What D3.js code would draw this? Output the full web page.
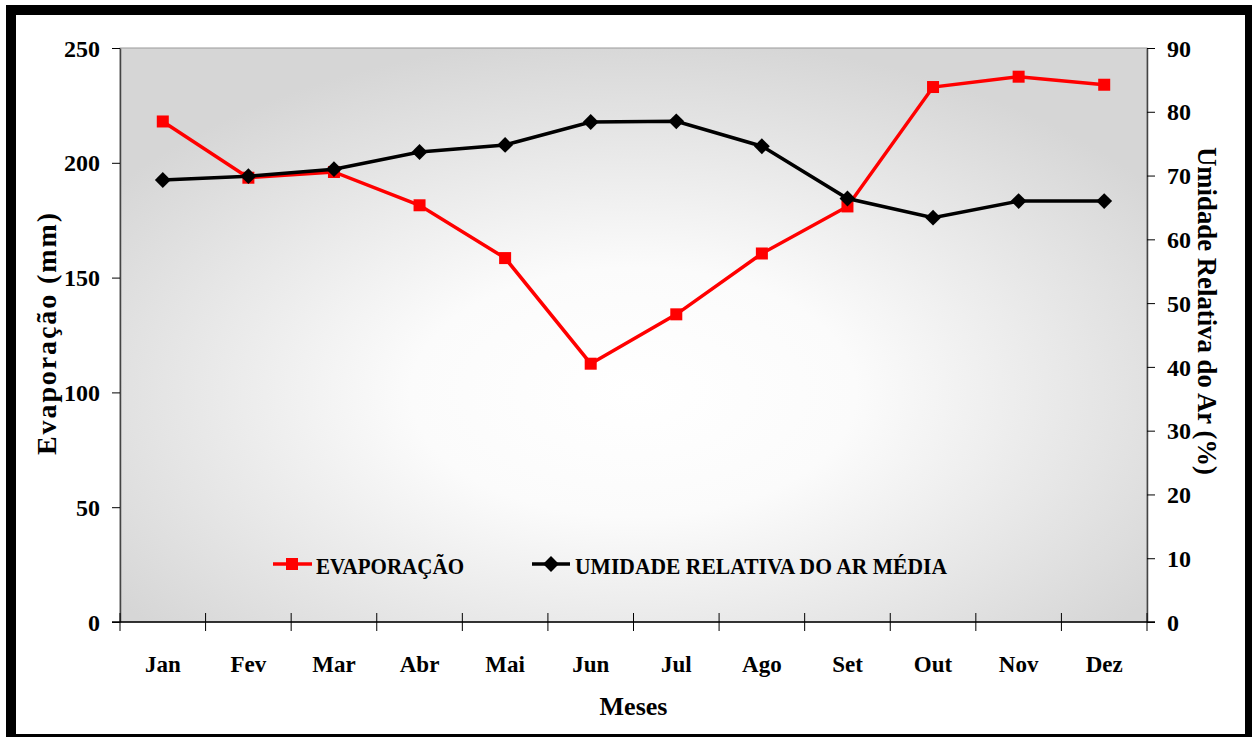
<!DOCTYPE html>
<html>
<head>
<meta charset="utf-8">
<script src="https://cdn.jsdelivr.net/npm/d3@7"></script>
<style>
  body { margin: 0; background: #fff; }
  svg text { font-family: "Liberation Serif", "Times New Roman", Times, serif; font-weight: bold; fill: #000; }
</style>
</head>
<body>
<div id="chart"></div>
<script>
// Data
const months = ["Jan", "Fev", "Mar", "Abr", "Mai", "Jun", "Jul", "Ago", "Set", "Out", "Nov", "Dez"];
const evaporacao = [218, 193.5, 196, 181.5, 158.5, 112.5, 134, 160.5, 181, 233, 237.5, 234];
const umidade = [69.3, 69.9, 71.0, 73.7, 74.8, 78.4, 78.5, 74.6, 66.4, 63.4, 66.0, 66.0];
const leftTicks = [0, 50, 100, 150, 200, 250];
const rightTicks = [0, 10, 20, 30, 40, 50, 60, 70, 80, 90];

const width = 1253, height = 737,
    plot = { left: 120, right: 1147, top: 48, bottom: 622 };

const svg = d3.select("#chart").append("svg")
    .attr("width", width)
    .attr("height", height)
    .attr("font-family", "Liberation Serif");

// outer frame
svg.append("rect").attr("x", 6).attr("y", 5).attr("width", 1246).attr("height", 732).attr("fill", "#000");
svg.append("rect").attr("x", 16).attr("y", 15).attr("width", 1229).attr("height", 719).attr("fill", "#fff");

// gradient background of plot area
const defs = svg.append("defs");
const grad = defs.append("radialGradient").attr("id", "bg")
    .attr("cx", "0.5").attr("cy", "0.6").attr("r", "0.62").attr("fx", "0.5").attr("fy", "0.6");
grad.append("stop").attr("offset", "0%").attr("stop-color", "#ffffff");
grad.append("stop").attr("offset", "35%").attr("stop-color", "#fbfbfb");
grad.append("stop").attr("offset", "100%").attr("stop-color", "#d6d6d6");

svg.append("rect")
    .attr("x", plot.left).attr("y", plot.top)
    .attr("width", plot.right - plot.left).attr("height", plot.bottom - plot.top)
    .attr("fill", "url(#bg)")
    .attr("stroke", "#9a9a9a").attr("stroke-width", 1);

// SCALES
const xScale = d3.scaleBand().domain(months).range([plot.left, plot.right]).padding(0);
const xc = m => xScale(m) + xScale.bandwidth() / 2;
const yLeft = d3.scaleLinear().domain([0, 250]).range([plot.bottom, plot.top]);
const yRight = d3.scaleLinear().domain([0, 90]).range([plot.bottom, plot.top]);

// AXES
const leftAxis = svg.append("g")
    .attr("transform", `translate(${plot.left},0)`)
    .call(d3.axisLeft(yLeft).tickValues(leftTicks).tickSize(8).tickPadding(12).tickSizeOuter(0));
const rightAxis = svg.append("g")
    .attr("transform", `translate(${plot.right},0)`)
    .call(d3.axisRight(yRight).tickValues(rightTicks).tickSize(8).tickPadding(12).tickSizeOuter(0));
[leftAxis, rightAxis].forEach(g => {
    g.attr("font-family", null).attr("font-size", null);
    g.select(".domain").attr("stroke", "#444").attr("stroke-width", 1.5);
    g.selectAll(".tick line").attr("stroke", "#000");
    g.selectAll(".tick text").style("font-size", "24px").attr("dy", "0.34em");
});

const xAxis = svg.append("g")
    .attr("transform", `translate(0,${plot.bottom})`)
    .call(d3.axisBottom(xScale).tickSize(0).tickPadding(34).tickSizeOuter(0));
xAxis.attr("font-family", null).attr("font-size", null);
xAxis.select(".domain").remove();
xAxis.selectAll(".tick text").style("font-size", "23px");

// bottom axis line and tick marks on category boundaries
svg.append("line")
    .attr("x1", plot.left - 8).attr("x2", plot.right + 8)
    .attr("y1", plot.bottom).attr("y2", plot.bottom)
    .attr("stroke", "#000").attr("stroke-width", 1.5);
svg.append("g").selectAll("line")
    .data(months.map(m => xScale(m)).concat([plot.right]))
    .join("line")
    .attr("x1", d => d).attr("x2", d => d)
    .attr("y1", plot.bottom - 9).attr("y2", plot.bottom + 9)
    .attr("stroke", "#000").attr("stroke-width", 1);

// AXIS TITLES
svg.append("text")
    .attr("x", xc("Jun") + xScale.bandwidth() / 2).attr("y", 715)
    .attr("text-anchor", "middle")
    .style("font-size", "26px")
    .text("Meses");

svg.append("text")
    .attr("transform", `translate(56,334) rotate(-90)`)
    .attr("text-anchor", "middle")
    .attr("textLength", 242).attr("lengthAdjust", "spacing")
    .style("font-size", "28px")
    .text("Evaporação (mm)");

svg.append("text")
    .attr("transform", `translate(1198,311) rotate(90)`)
    .attr("text-anchor", "middle")
    .attr("textLength", 328).attr("lengthAdjust", "spacingAndGlyphs")
    .style("font-size", "28px")
    .text("Umidade Relativa do Ar (%)");

// LINES
const lineEvap = d3.line().x((d, i) => xc(months[i])).y(d => yLeft(d));
const lineUmid = d3.line().x((d, i) => xc(months[i])).y(d => yRight(d));

svg.append("path")
    .attr("d", lineEvap(evaporacao))
    .attr("fill", "none").attr("stroke", "#ff0000").attr("stroke-width", 3.5);

svg.append("g").selectAll("rect")
    .data(evaporacao)
    .join("rect")
    .attr("x", (d, i) => xc(months[i]) - 6)
    .attr("y", d => yLeft(d) - 6)
    .attr("width", 12).attr("height", 12)
    .attr("fill", "#ff0000");

svg.append("path")
    .attr("d", lineUmid(umidade))
    .attr("fill", "none").attr("stroke", "#000").attr("stroke-width", 3.5);

const diamond = d3.symbol().type(d3.symbolDiamond2).size(160);
svg.append("g").selectAll("path")
    .data(umidade)
    .join("path")
    .attr("d", diamond)
    .attr("transform", (d, i) => `translate(${xc(months[i])},${yRight(d)})`)
    .attr("fill", "#000");

// LEGEND
const legend = svg.append("g");
legend.append("line").attr("x1", 273).attr("x2", 312).attr("y1", 564).attr("y2", 564)
    .attr("stroke", "#ff0000").attr("stroke-width", 3.5);
legend.append("rect").attr("x", 286).attr("y", 558).attr("width", 12).attr("height", 12).attr("fill", "#ff0000");
legend.append("text").attr("x", 316).attr("y", 574)
    .attr("textLength", 148).attr("lengthAdjust", "spacingAndGlyphs")
    .style("font-size", "24px").text("EVAPORAÇÃO");

legend.append("line").attr("x1", 532).attr("x2", 570).attr("y1", 564).attr("y2", 564)
    .attr("stroke", "#000").attr("stroke-width", 3.5);
legend.append("path").attr("d", diamond).attr("transform", "translate(551,564)").attr("fill", "#000");
legend.append("text").attr("x", 575).attr("y", 574)
    .attr("textLength", 372).attr("lengthAdjust", "spacingAndGlyphs")
    .style("font-size", "24px").text("UMIDADE RELATIVA DO AR MÉDIA");
</script>
</body>
</html>
